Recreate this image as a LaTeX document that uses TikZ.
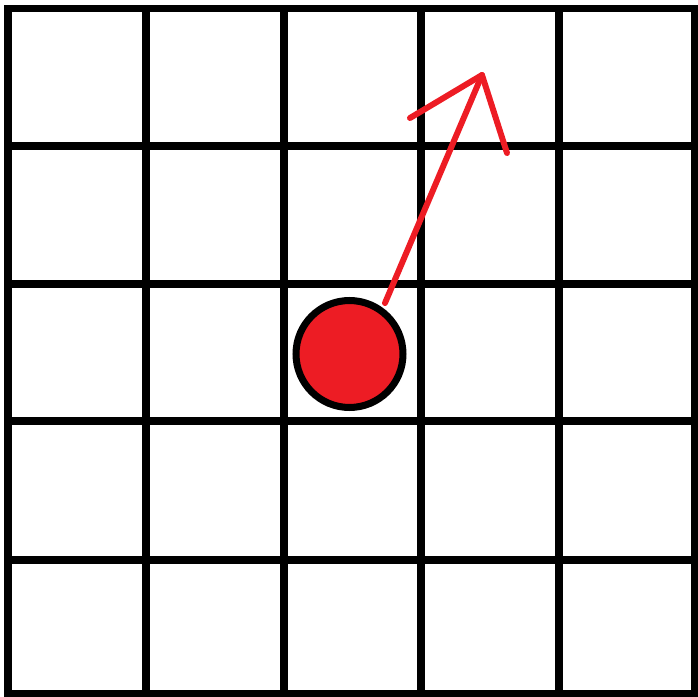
\documentclass[tikz,border=0pt]{standalone}
\usepackage{tikz}
\usetikzlibrary{positioning}

\definecolor{paintred}{HTML}{ED1C24}

\begin{document}
\begin{tikzpicture}[
    x=0.02cm, y=-0.02cm,
    gridline/.style={line width=4pt, draw=black, line cap=rect},
    ball/.style={circle, draw=black, fill=paintred, line width=4pt,
        minimum size=2.14cm, inner sep=0pt},
    vec/.style={draw=paintred, line width=3.4pt, line cap=round, line join=round}
]
\useasboundingbox (0,0) rectangle (698,697);

% grid
\foreach \p in {8,146,284,421,559,695} {
    \draw[gridline] (\p,8.5) -- (\p,694);
}
\foreach \q in {8.5,146,284,421,560,694} {
    \draw[gridline] (8,\q) -- (695,\q);
}

% ball and its velocity
\node[ball] (ball) at (349.5,354) {};
\coordinate (start) at (385,303);
\coordinate (tip) at (482,75);
\coordinate (barbL) at (410,118);
\coordinate (barbR) at (507,153);

\draw[vec] (start) -- (tip);
\draw[vec] (barbL) -- (tip) -- (barbR);
\end{tikzpicture}
\end{document}
